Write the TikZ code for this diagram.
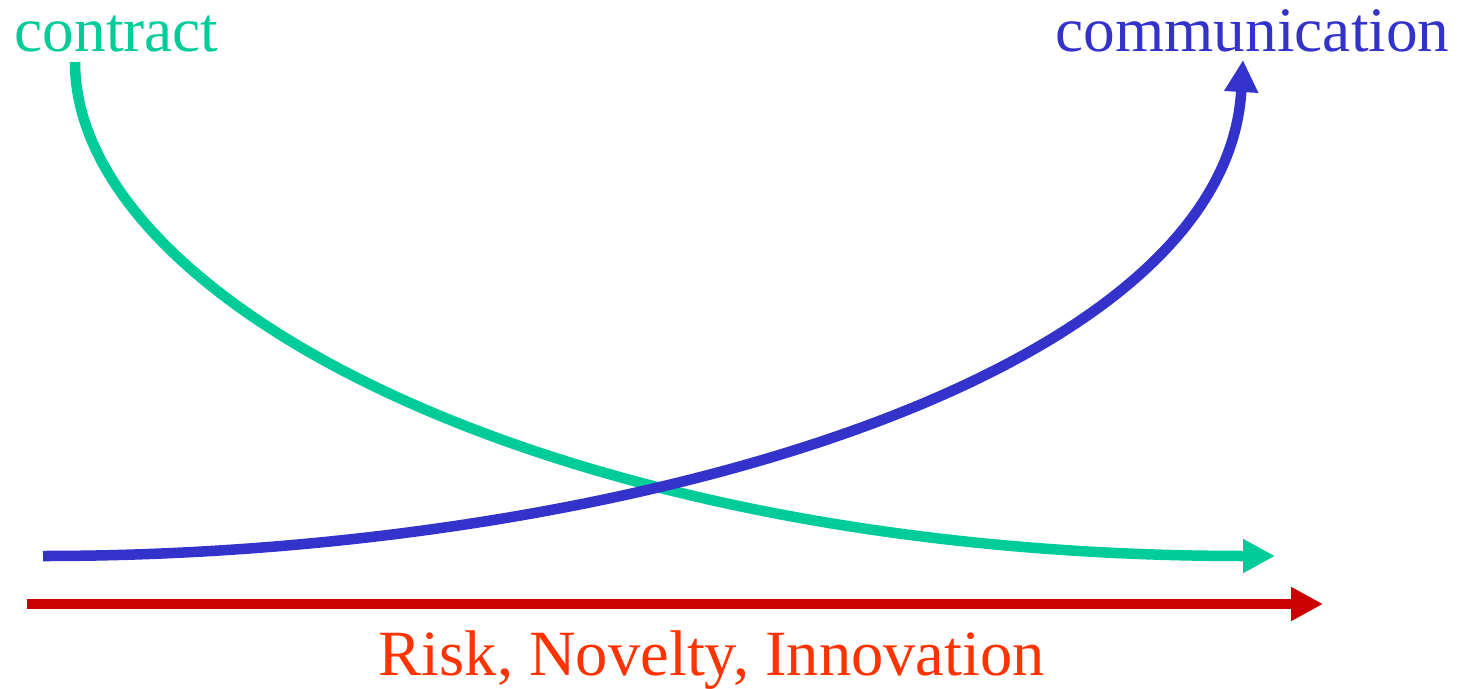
\documentclass[tikz,border=0pt]{standalone}
\usepackage{fontspec}
\setmainfont{Liberation Serif}
\usetikzlibrary{arrows.meta}

\definecolor{contractgreen}{HTML}{00CC99}
\definecolor{commblue}{HTML}{3333CC}
\definecolor{riskred}{HTML}{CC0000}
\definecolor{risktext}{HTML}{FF3300}

\begin{document}
\begin{tikzpicture}[x=0.01cm, y=-0.01cm,
		trend/.style={line width=0.105cm, -{Triangle[length=0.32cm, width=0.32cm]}},
		word/.style={inner sep=0pt, anchor=base west, font=\fontsize{18}{22}\selectfont}]
			\useasboundingbox (0,0) rectangle (1458,688);
			
			\node[word, text=contractgreen] (contract) at (14,52) {contract};
			\node[word, text=commblue] (communication) at (1055,52) {communication};
			\node[word, text=risktext, font=\fontsize{18.35}{22}\selectfont] (risk) at (378,675) {Risk, Novelty, Innovation};
			
			\coordinate (contract-start) at (75,62);
			\coordinate (contract-end) at (1275,556);
			\coordinate (comm-start) at (43,556);
			\coordinate (comm-end) at (1243,60);
			\coordinate (risk-start) at (27,604);
			\coordinate (risk-end) at (1323,604);
			
			\draw[trend, contractgreen] (contract-start) .. controls (75,302) and (555,556) .. (contract-end);
			\draw[trend, commblue] (comm-start) .. controls (613,556) and (1225,380) .. (comm-end);
			\draw[trend, riskred] (risk-start) -- (risk-end);
		\end{tikzpicture}
\end{document}
